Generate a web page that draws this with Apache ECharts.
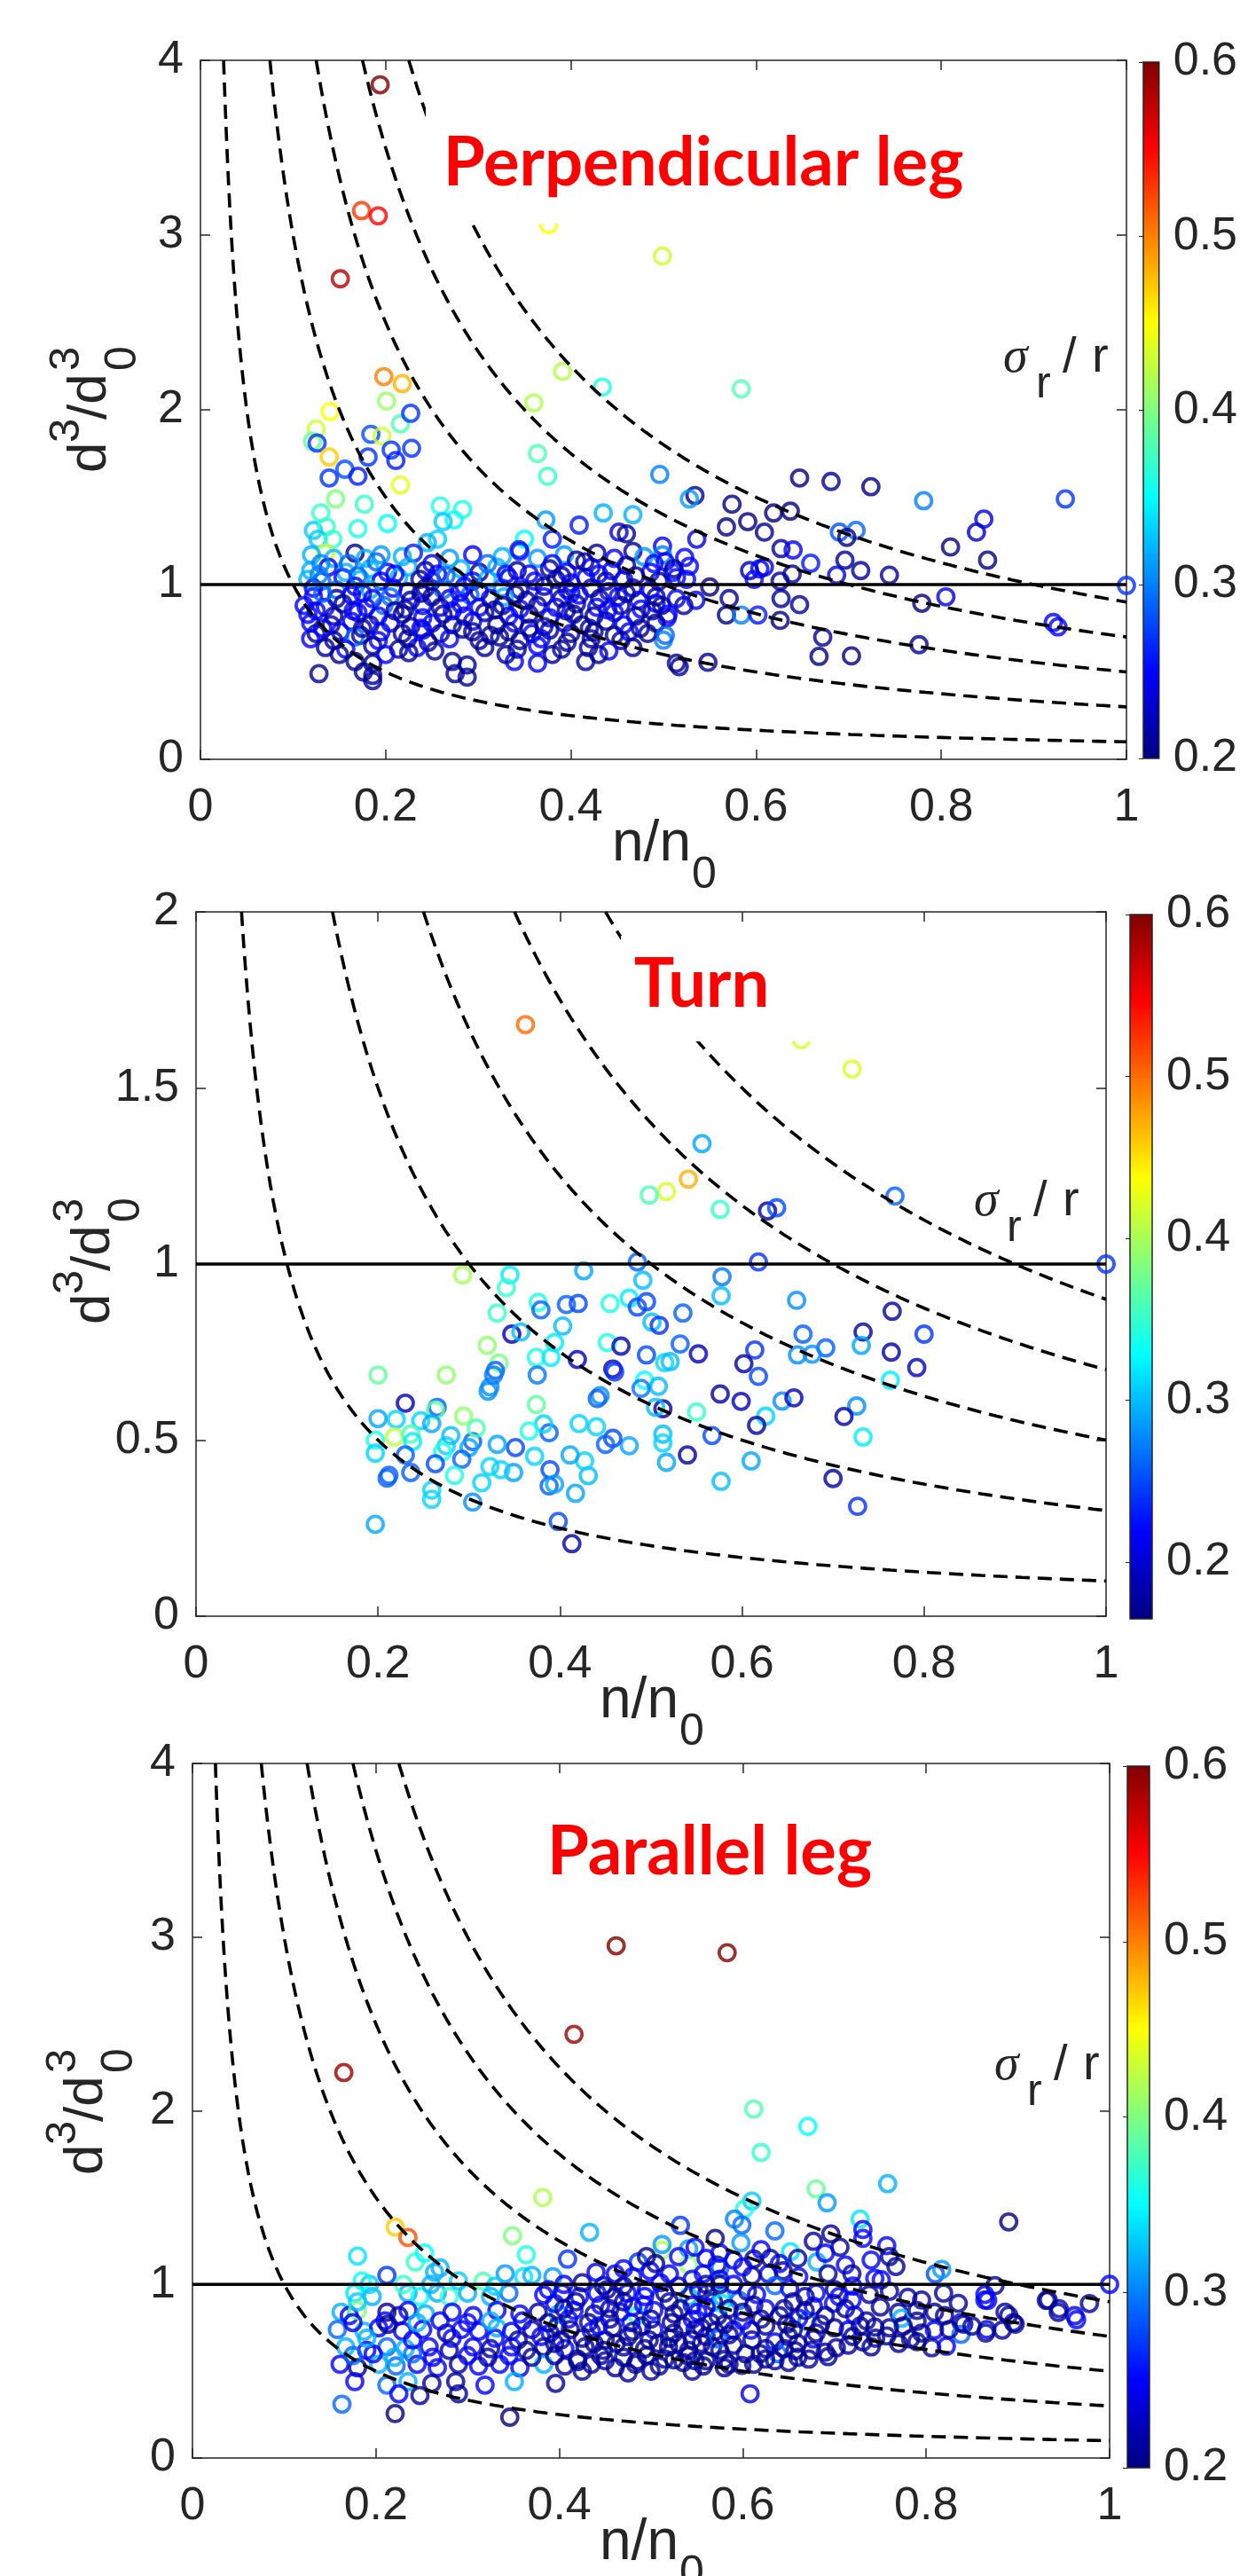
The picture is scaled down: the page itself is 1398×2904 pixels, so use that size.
<!DOCTYPE html>
<html><head><meta charset="utf-8">
<script src="https://cdn.jsdelivr.net/npm/echarts@6/dist/echarts.min.js"></script>
<style>html,body{margin:0;padding:0;background:#fff}#c{width:1398px;height:2904px}</style>
</head><body><div id="c"></div>
<script>
// ---------------- data ----------------
const xTicks = [0, 0.2, 0.4, 0.6, 0.8, 1];
const cbTicks = [0.2, 0.3, 0.4, 0.5, 0.6];
const curveConsts = [0.1, 0.3, 0.5, 0.7, 0.9];
const refLevel = 1;
const panelTitles = ['Perpendicular leg', 'Turn', 'Parallel leg'];
const yMaxes = [4, 2, 4];
const yIntervals = [1, 0.5, 1];
const cbRanges = [[0.2, 0.6], [0.165, 0.6], [0.2, 0.6]];

// [n/n0, d^3/d0^3, sigma_r/r]
const perpPts = [
[0.194,3.86,0.60],[0.174,3.14,0.53],[0.192,3.11,0.55],[0.151,2.75,0.58],[0.376,3.06,0.45],[0.499,2.88,0.43],
[0.198,2.19,0.50],[0.218,2.15,0.48],[0.391,2.22,0.42],[0.434,2.13,0.36],[0.584,2.12,0.38],
[0.140,1.99,0.45],[0.125,1.89,0.43],[0.121,1.82,0.39],[0.126,1.81,0.27],[0.201,2.05,0.41],[0.216,1.92,0.38],[0.227,1.98,0.27],
[0.184,1.86,0.28],[0.196,1.85,0.43],[0.206,1.77,0.27],[0.228,1.78,0.27],[0.211,1.71,0.26],[0.181,1.73,0.27],[0.139,1.73,0.47],
[0.139,1.61,0.27],[0.156,1.66,0.28],[0.170,1.62,0.26],[0.216,1.57,0.44],[0.146,1.49,0.40],
[0.360,2.04,0.42],[0.364,1.75,0.38],[0.375,1.62,0.37],[0.496,1.63,0.30],
[0.647,1.61,0.20],[0.681,1.59,0.21],[0.724,1.56,0.20],[0.781,1.48,0.30],[0.934,1.49,0.27],
[0.534,1.51,0.21],[0.528,1.49,0.31],
[0.177,1.46,0.37],[0.130,1.41,0.37],[0.170,1.32,0.36],[0.202,1.35,0.35],[0.259,1.45,0.36],[0.283,1.43,0.36],[0.274,1.37,0.35],[0.262,1.36,0.33],
[0.373,1.37,0.31],[0.409,1.34,0.26],[0.435,1.41,0.32],[0.467,1.40,0.32],[0.452,1.30,0.24],
[0.122,1.31,0.33],[0.136,1.33,0.37],[0.127,1.26,0.33],[0.143,1.26,0.37],[0.135,1.18,0.43],[0.256,1.26,0.33],[0.245,1.24,0.32],[0.460,1.29,0.21],[0.380,1.26,0.26],[0.350,1.26,0.35],[0.344,1.20,0.26],
[0.574,1.46,0.20],[0.568,1.33,0.20],[0.591,1.36,0.20],[0.609,1.30,0.21],[0.619,1.41,0.20],[0.637,1.42,0.20],[0.690,1.30,0.28],[0.708,1.31,0.29],[0.698,1.27,0.20],[0.810,1.215,0.20],[0.838,1.30,0.23],[0.846,1.375,0.24],[0.850,1.14,0.20],
[0.536,1.26,0.24],[0.499,1.22,0.25],[0.499,1.17,0.30],[0.523,1.155,0.25],[0.528,1.105,0.25],[0.510,1.07,0.26],[0.525,1.03,0.25],[0.550,0.986,0.20],
[0.627,1.206,0.21],[0.640,1.198,0.25],[0.659,1.122,0.26],[0.696,1.14,0.21],[0.713,1.08,0.21],[0.687,1.054,0.24],[0.744,1.054,0.21],
[0.593,1.08,0.22],[0.604,1.09,0.25],[0.598,1.03,0.25],[0.609,1.10,0.24],[0.639,1.06,0.21],[0.626,1.02,0.21],[1.000,0.995,0.27],
[0.571,0.92,0.21],[0.627,0.92,0.21],[0.647,0.885,0.21],[0.568,0.826,0.20],[0.584,0.826,0.30],[0.602,0.826,0.26],[0.626,0.795,0.20],
[0.504,0.81,0.25],[0.522,0.88,0.21],[0.535,0.91,0.24],[0.779,0.893,0.20],[0.805,0.93,0.24],[0.921,0.783,0.25],[0.926,0.758,0.25],
[0.672,0.699,0.21],[0.668,0.589,0.20],[0.703,0.592,0.20],[0.776,0.656,0.21],[0.500,0.682,0.30],[0.517,0.53,0.21],[0.548,0.555,0.21],[0.492,0.893,0.25],
[0.120,1.17,0.32],[0.144,1.15,0.32],[0.167,1.18,0.21],[0.178,1.15,0.32],[0.195,1.17,0.31],[0.218,1.16,0.32],[0.230,1.18,0.26],[0.269,1.15,0.31],[0.294,1.17,0.25],[0.326,1.16,0.32],[0.345,1.19,0.26],[0.364,1.15,0.31],[0.393,1.17,0.31],[0.406,1.14,0.21],[0.428,1.18,0.21],[0.447,1.15,0.25],[0.467,1.19,0.21],[0.479,1.16,0.31],[0.502,1.13,0.25],
[0.119,1.08,0.32],[0.138,1.10,0.25],[0.157,1.07,0.32],[0.183,1.09,0.32],[0.202,1.07,0.25],[0.224,1.10,0.32],[0.243,1.08,0.21],[0.256,1.06,0.25],[0.281,1.09,0.32],[0.301,1.07,0.21],[0.320,1.10,0.32],[0.342,1.08,0.21],[0.355,1.06,0.25],[0.377,1.09,0.21],[0.396,1.07,0.25],[0.422,1.10,0.25],[0.444,1.08,0.25],[0.460,1.11,0.21],[0.486,1.07,0.25],[0.511,1.09,0.21],
[0.116,1.03,0.32],[0.131,1.02,0.29],[0.154,1.04,0.25],[0.173,1.03,0.32],[0.195,1.02,0.25],[0.214,1.04,0.32],[0.237,1.03,0.21],[0.250,1.02,0.25],[0.275,1.04,0.29],[0.294,1.02,0.25],[0.310,1.03,0.32],[0.333,1.04,0.25],[0.361,1.02,0.25],[0.384,1.03,0.21],[0.400,1.01,0.25],[0.416,1.04,0.25],[0.438,1.02,0.21],[0.457,1.03,0.25],[0.495,1.02,0.21],[0.514,1.04,0.25],
[0.122,0.98,0.25],[0.147,0.97,0.29],[0.167,0.99,0.25],[0.183,0.97,0.32],[0.208,0.98,0.25],[0.224,0.96,0.25],[0.243,0.98,0.21],[0.262,0.97,0.29],[0.285,0.99,0.25],[0.301,0.96,0.21],[0.326,0.98,0.29],[0.345,0.97,0.25],[0.371,0.99,0.21],[0.396,0.97,0.25],[0.422,0.98,0.21],[0.441,0.96,0.25],[0.467,0.98,0.21],[0.486,0.97,0.25],
[0.122,0.93,0.25],[0.147,0.92,0.21],[0.163,0.94,0.25],[0.186,0.92,0.25],[0.205,0.93,0.29],[0.227,0.91,0.21],[0.250,0.93,0.21],[0.269,0.92,0.25],[0.291,0.94,0.29],[0.313,0.92,0.25],[0.328,0.93,0.32],[0.352,0.91,0.21],[0.371,0.93,0.25],[0.390,0.92,0.21],[0.409,0.94,0.25],[0.431,0.92,0.21],[0.451,0.93,0.25],[0.473,0.91,0.25],[0.492,0.93,0.21],[0.514,0.92,0.25],
[0.112,0.88,0.25],[0.135,0.87,0.25],[0.154,0.89,0.21],[0.179,0.87,0.25],[0.198,0.88,0.29],[0.221,0.86,0.21],[0.240,0.88,0.25],[0.259,0.87,0.21],[0.281,0.89,0.25],[0.301,0.87,0.25],[0.326,0.88,0.21],[0.345,0.86,0.25],[0.364,0.88,0.21],[0.384,0.87,0.25],[0.406,0.89,0.21],[0.428,0.87,0.25],[0.454,0.88,0.21],[0.476,0.86,0.25],[0.498,0.88,0.21],
[0.116,0.83,0.25],[0.144,0.82,0.21],[0.170,0.84,0.25],[0.192,0.82,0.25],[0.218,0.83,0.21],[0.240,0.81,0.25],[0.262,0.83,0.21],[0.285,0.82,0.25],[0.307,0.84,0.21],[0.333,0.82,0.25],[0.355,0.83,0.21],[0.377,0.81,0.25],[0.403,0.83,0.21],[0.425,0.82,0.21],[0.447,0.84,0.25],[0.470,0.82,0.21],[0.505,0.83,0.25],
[0.119,0.78,0.25],[0.141,0.77,0.21],[0.163,0.79,0.25],[0.183,0.77,0.21],[0.205,0.78,0.25],[0.227,0.76,0.21],[0.250,0.78,0.25],[0.272,0.77,0.21],[0.294,0.79,0.25],[0.320,0.77,0.21],[0.339,0.78,0.25],[0.371,0.76,0.21],[0.393,0.78,0.25],[0.412,0.77,0.21],[0.438,0.79,0.21],[0.457,0.77,0.25],[0.492,0.78,0.21],
[0.125,0.72,0.21],[0.151,0.73,0.25],[0.173,0.71,0.21],[0.195,0.73,0.25],[0.218,0.72,0.21],[0.240,0.74,0.25],[0.259,0.72,0.21],[0.294,0.73,0.21],[0.313,0.71,0.21],[0.333,0.73,0.21],[0.358,0.72,0.25],[0.377,0.74,0.21],[0.400,0.72,0.21],[0.425,0.73,0.21],[0.447,0.71,0.21],[0.463,0.73,0.25],[0.483,0.72,0.21],[0.502,0.71,0.29],
[0.119,0.69,0.25],[0.144,0.68,0.21],[0.167,0.70,0.29],[0.192,0.68,0.25],[0.224,0.69,0.21],[0.246,0.67,0.21],[0.269,0.69,0.25],[0.301,0.68,0.21],[0.323,0.70,0.21],[0.345,0.68,0.21],[0.368,0.69,0.25],[0.396,0.67,0.21],[0.422,0.69,0.21],[0.454,0.68,0.21],
[0.135,0.64,0.21],[0.157,0.63,0.25],[0.186,0.65,0.21],[0.214,0.63,0.21],[0.234,0.64,0.25],[0.253,0.62,0.21],[0.307,0.64,0.21],[0.342,0.63,0.21],[0.364,0.65,0.25],[0.390,0.63,0.21],[0.419,0.64,0.21],[0.441,0.62,0.25],[0.467,0.64,0.21],
[0.167,0.56,0.21],[0.186,0.55,0.21],[0.272,0.56,0.21],[0.288,0.54,0.21],[0.339,0.56,0.25],[0.364,0.55,0.25],[0.416,0.56,0.21],[0.514,0.55,0.21],
[0.128,0.49,0.21],[0.176,0.50,0.21],[0.186,0.48,0.21],[0.275,0.49,0.21],[0.288,0.47,0.21],[0.186,0.45,0.21],
[0.130,1.12,0.30],[0.160,1.12,0.29],[0.190,1.13,0.29],[0.250,1.12,0.25],[0.310,1.12,0.29],[0.380,1.12,0.25],[0.415,1.13,0.21],[0.490,1.12,0.25],
[0.128,1.055,0.30],[0.170,1.05,0.29],[0.210,1.06,0.25],[0.265,1.05,0.29],[0.330,1.06,0.25],[0.390,1.05,0.21],[0.430,1.06,0.25],[0.470,1.05,0.21],
[0.132,0.95,0.29],[0.175,0.95,0.25],[0.238,0.95,0.21],[0.280,0.955,0.25],[0.340,0.945,0.21],[0.400,0.95,0.25],[0.460,0.95,0.21],
[0.125,0.85,0.25],[0.165,0.85,0.25],[0.210,0.85,0.21],[0.272,0.85,0.25],[0.318,0.855,0.21],[0.395,0.85,0.21],[0.440,0.855,0.25],[0.488,0.85,0.21],
[0.132,0.75,0.25],[0.175,0.75,0.21],[0.238,0.75,0.25],[0.283,0.745,0.21],[0.355,0.75,0.21],[0.420,0.75,0.21],[0.475,0.75,0.21],
[0.150,0.60,0.21],[0.200,0.60,0.25],[0.225,0.61,0.21],[0.330,0.60,0.21],[0.380,0.60,0.21],[0.430,0.60,0.21]
];

const turnPts = [
[0.362,1.68,0.50],[0.665,1.637,0.42],[0.721,1.554,0.42],[1.000,1.00,0.24],
[0.556,1.342,0.29],[0.541,1.241,0.47],[0.517,1.206,0.42],[0.498,1.196,0.36],[0.576,1.155,0.35],[0.628,1.151,0.18],[0.638,1.16,0.25],[0.768,1.193,0.26],
[0.485,1.006,0.26],[0.618,1.006,0.24],[0.426,0.981,0.29],[0.491,0.954,0.30],[0.578,0.964,0.27],[0.577,0.91,0.30],[0.293,0.969,0.40],[0.345,0.969,0.32],[0.341,0.933,0.35],[0.660,0.897,0.28],[0.376,0.891,0.34],[0.379,0.87,0.26],[0.407,0.885,0.26],[0.420,0.888,0.25],[0.455,0.888,0.34],[0.476,0.903,0.32],[0.485,0.878,0.25],[0.495,0.893,0.25],[0.765,0.866,0.18],[0.331,0.861,0.35],[0.501,0.835,0.30],[0.509,0.826,0.24],[0.535,0.861,0.26],
[0.347,0.801,0.19],[0.357,0.807,0.30],[0.394,0.777,0.32],[0.403,0.824,0.30],[0.452,0.777,0.34],[0.467,0.767,0.19],[0.532,0.773,0.26],[0.552,0.745,0.19],[0.495,0.742,0.25],[0.667,0.801,0.26],[0.692,0.762,0.26],[0.733,0.807,0.18],[0.731,0.769,0.29],[0.800,0.801,0.24],[0.764,0.75,0.18],[0.792,0.706,0.19],[0.763,0.67,0.32],[0.661,0.742,0.28],[0.677,0.744,0.28],[0.614,0.756,0.24],[0.602,0.717,0.18],[0.618,0.681,0.25],
[0.320,0.769,0.39],[0.333,0.719,0.38],[0.329,0.698,0.26],[0.374,0.735,0.34],[0.390,0.735,0.32],[0.419,0.729,0.19],[0.375,0.685,0.27],[0.458,0.702,0.19],[0.460,0.694,0.24],[0.515,0.72,0.31],[0.521,0.723,0.30],[0.493,0.67,0.33],[0.508,0.653,0.30],[0.489,0.647,0.27],[0.323,0.651,0.28],[0.321,0.639,0.28],[0.444,0.626,0.28],[0.441,0.618,0.26],[0.576,0.631,0.18],[0.599,0.61,0.19],[0.644,0.611,0.28],[0.657,0.62,0.19],[0.726,0.597,0.28],[0.712,0.567,0.18],[0.513,0.589,0.18],[0.505,0.593,0.30],[0.550,0.58,0.35],[0.626,0.568,0.31],[0.616,0.542,0.18],[0.733,0.509,0.32],[0.567,0.513,0.25],[0.540,0.458,0.18],[0.513,0.517,0.30],[0.513,0.492,0.31],[0.517,0.437,0.29],[0.610,0.441,0.29],[0.577,0.383,0.30],[0.700,0.391,0.18],[0.727,0.312,0.24],
[0.476,0.484,0.29],[0.458,0.505,0.25],[0.450,0.488,0.26],[0.440,0.538,0.31],[0.421,0.547,0.31],[0.431,0.399,0.30],[0.427,0.441,0.31],[0.411,0.458,0.29],[0.417,0.349,0.29],[0.398,0.269,0.25],[0.413,0.206,0.18],[0.389,0.416,0.25],[0.388,0.37,0.26],[0.394,0.375,0.29],[0.372,0.454,0.31],[0.388,0.521,0.26],[0.382,0.546,0.31],[0.366,0.526,0.34],[0.374,0.601,0.37],[0.351,0.479,0.25],[0.349,0.408,0.29],[0.335,0.416,0.31],[0.323,0.425,0.31],[0.331,0.488,0.29],[0.304,0.496,0.26],[0.300,0.479,0.29],[0.314,0.379,0.31],[0.292,0.446,0.26],[0.284,0.40,0.34],[0.275,0.484,0.31],[0.280,0.513,0.30],[0.271,0.467,0.34],[0.294,0.568,0.39],[0.308,0.534,0.36],[0.263,0.433,0.25],[0.265,0.593,0.26],[0.263,0.585,0.37],[0.275,0.685,0.39],[0.230,0.605,0.19],[0.247,0.555,0.31],[0.259,0.547,0.29],[0.220,0.559,0.31],[0.200,0.561,0.29],[0.218,0.509,0.41],[0.236,0.517,0.36],[0.238,0.496,0.32],[0.197,0.500,0.34],[0.197,0.463,0.31],[0.200,0.685,0.37],[0.212,0.400,0.26],[0.210,0.392,0.26],[0.236,0.408,0.26],[0.230,0.458,0.26],[0.259,0.358,0.31],[0.259,0.332,0.31],[0.304,0.324,0.28],[0.197,0.261,0.29],[0.327,0.685,0.27]
];

const paraPts = [
[0.462,2.95,0.60],[0.583,2.91,0.60],[0.416,2.44,0.59],[0.165,2.22,0.59],[0.612,2.01,0.38],[0.671,1.91,0.35],[0.620,1.76,0.37],[0.758,1.58,0.32],[0.680,1.55,0.39],[0.382,1.50,0.42],[0.692,1.47,0.31],[0.890,1.36,0.20],[0.610,1.48,0.33],[0.221,1.33,0.47],[0.235,1.27,0.52],[0.349,1.28,0.40],[0.433,1.30,0.32],[1.000,1.00,0.25],[0.810,1.06,0.28],[0.163,0.31,0.29],[0.221,0.256,0.20],[0.346,0.235,0.20],[0.608,0.37,0.24],
[0.933,0.91,0.21],[0.945,0.86,0.22],[0.962,0.82,0.24],[0.978,0.89,0.21],[0.864,0.91,0.24],[0.886,0.84,0.21],[0.895,0.78,0.22],[0.866,0.74,0.24],[0.838,0.78,0.24],
[0.532,1.34,0.27],[0.180,1.163,0.34],[0.243,1.129,0.37],[0.253,1.18,0.35],[0.364,1.171,0.36],[0.409,1.146,0.27],[0.486,1.129,0.27],[0.512,1.197,0.42],[0.512,1.23,0.31],[0.541,1.205,0.31],[0.541,1.112,0.41],[0.570,1.265,0.20],[0.572,1.112,0.21],[0.212,1.052,0.27],[0.264,1.07,0.32],[0.270,1.095,0.32],[0.317,1.018,0.38],[0.341,1.061,0.31],[0.361,1.044,0.34],[0.370,1.052,0.32],[0.393,1.044,0.31],[0.548,1.214,0.25],[0.448,0.993,0.21],[0.461,1.061,0.25],[0.480,1.044,0.25],[0.499,1.078,0.25],[0.557,1.061,0.25],
[0.177,0.95,0.34],[0.196,0.93,0.32],[0.235,0.95,0.32],[0.248,0.93,0.35],[0.267,0.95,0.32],[0.280,0.93,0.37],[0.300,0.95,0.32],[0.325,0.93,0.32],[0.345,0.95,0.29],[0.383,0.94,0.25],[0.403,0.95,0.21],[0.422,0.93,0.25],[0.441,0.95,0.25],[0.461,0.93,0.21],[0.474,0.95,0.25],[0.493,0.93,0.25],[0.515,0.95,0.21],[0.541,0.93,0.32],[0.561,0.95,0.25],[0.577,0.93,0.32],
[0.162,0.84,0.32],[0.171,0.82,0.25],[0.180,0.85,0.40],[0.212,0.84,0.21],[0.225,0.82,0.21],[0.235,0.85,0.25],[0.254,0.83,0.32],[0.283,0.84,0.25],[0.306,0.82,0.25],[0.332,0.85,0.25],[0.357,0.83,0.25],[0.377,0.84,0.21],[0.399,0.83,0.32],[0.416,0.85,0.25],[0.438,0.83,0.21],[0.467,0.84,0.25],[0.485,0.82,0.37],[0.503,0.85,0.25],[0.525,0.83,0.21],[0.551,0.84,0.25],[0.573,0.82,0.21],
[0.158,0.74,0.29],[0.187,0.73,0.32],[0.203,0.75,0.25],[0.229,0.73,0.25],[0.251,0.74,0.25],[0.277,0.72,0.21],[0.293,0.74,0.25],[0.312,0.73,0.25],[0.332,0.75,0.32],[0.348,0.73,0.25],[0.370,0.74,0.21],[0.390,0.72,0.25],[0.412,0.74,0.21],[0.435,0.73,0.25],[0.458,0.75,0.21],[0.480,0.73,0.21],[0.503,0.74,0.25],[0.525,0.72,0.21],[0.548,0.74,0.25],[0.570,0.73,0.21],
[0.167,0.64,0.32],[0.190,0.62,0.25],[0.212,0.64,0.29],[0.232,0.63,0.32],[0.258,0.64,0.25],[0.280,0.62,0.21],[0.306,0.64,0.25],[0.325,0.63,0.21],[0.348,0.64,0.25],[0.364,0.62,0.21],[0.383,0.64,0.21],[0.406,0.63,0.25],[0.428,0.64,0.21],[0.448,0.62,0.21],[0.470,0.64,0.21],[0.493,0.63,0.21],[0.519,0.64,0.21],[0.541,0.62,0.21],[0.567,0.64,0.21],
[0.161,0.54,0.25],[0.180,0.52,0.21],[0.203,0.54,0.32],[0.222,0.53,0.29],[0.245,0.54,0.25],[0.267,0.52,0.25],[0.290,0.54,0.21],[0.312,0.53,0.25],[0.335,0.54,0.25],[0.357,0.52,0.25],[0.383,0.54,0.32],[0.406,0.53,0.21],[0.435,0.54,0.21],[0.461,0.52,0.21],[0.483,0.54,0.21],[0.509,0.53,0.21],[0.535,0.55,0.21],[0.557,0.53,0.21],
[0.177,0.44,0.25],[0.212,0.42,0.29],[0.235,0.44,0.32],[0.261,0.43,0.21],[0.287,0.44,0.21],[0.319,0.42,0.25],[0.351,0.44,0.32],[0.396,0.43,0.21],
[0.225,0.37,0.25],[0.248,0.36,0.21],[0.290,0.37,0.21],
[0.395,0.89,0.25],[0.418,0.90,0.21],[0.445,0.88,0.25],[0.470,0.90,0.21],[0.492,0.88,0.25],[0.520,0.90,0.21],[0.545,0.88,0.25],[0.568,0.90,0.21],
[0.360,0.79,0.25],[0.388,0.78,0.21],[0.410,0.80,0.25],[0.432,0.78,0.21],[0.455,0.80,0.21],[0.478,0.78,0.25],[0.500,0.80,0.21],[0.522,0.78,0.21],[0.545,0.80,0.25],[0.565,0.78,0.21],
[0.330,0.69,0.25],[0.355,0.68,0.21],[0.380,0.70,0.25],[0.402,0.68,0.21],[0.425,0.69,0.21],[0.450,0.68,0.21],[0.475,0.70,0.21],[0.498,0.68,0.21],[0.520,0.69,0.21],[0.545,0.68,0.21],[0.560,0.70,0.21],
[0.300,0.59,0.25],[0.322,0.58,0.21],[0.345,0.59,0.25],[0.370,0.58,0.21],[0.395,0.59,0.21],[0.420,0.57,0.21],[0.445,0.59,0.21],[0.470,0.58,0.21],[0.495,0.59,0.21],[0.515,0.57,0.21],[0.540,0.59,0.21],
[0.175,0.59,0.29],[0.197,0.60,0.25],[0.220,0.58,0.32],[0.240,0.60,0.29],[0.262,0.58,0.25],[0.283,0.69,0.25],[0.190,0.69,0.32],[0.240,0.68,0.25],[0.210,0.79,0.25],[0.245,0.78,0.32],[0.270,0.79,0.25],[0.300,0.78,0.25],[0.325,0.79,0.32],
[0.193,1.00,0.33],[0.180,0.90,0.33],[0.185,1.02,0.35],[0.260,1.00,0.32],[0.290,1.02,0.33],[0.230,1.00,0.37],[0.330,0.99,0.33],[0.175,0.78,0.24],[0.213,0.77,0.21],
[0.602,1.435,0.36],[0.591,1.376,0.30],[0.599,1.342,0.29],[0.635,1.308,0.29],[0.598,1.24,0.31],[0.728,1.376,0.34],[0.731,1.316,0.25],[0.731,1.265,0.25],[0.757,1.223,0.25],[0.767,1.103,0.21],[0.677,1.248,0.21],[0.696,1.291,0.21],[0.706,1.214,0.21],[0.652,1.188,0.34],[0.681,1.129,0.32],[0.712,1.112,0.25],[0.575,1.095,0.29],[0.612,1.146,0.21],[0.628,1.061,0.25],[0.644,1.078,0.21],[0.661,1.044,0.25],[0.693,1.061,0.21],[0.719,1.061,0.21],[0.744,1.035,0.25],[0.817,1.086,0.31],[0.875,0.993,0.21],[0.864,0.942,0.25],[0.867,0.908,0.25],[0.931,0.908,0.21],[0.944,0.839,0.21],[0.964,0.797,0.25],
[0.819,0.95,0.21],[0.835,0.891,0.21],[0.841,0.771,0.21],[0.838,0.712,0.29],[0.865,0.72,0.21],[0.883,0.737,0.21],[0.890,0.822,0.21],[0.897,0.771,0.21],[0.809,0.839,0.21],[0.809,0.737,0.25],[0.806,0.635,0.21],[0.822,0.644,0.25],[0.780,0.925,0.21],[0.770,0.839,0.21],[0.790,0.788,0.21],[0.773,0.805,0.32],[0.738,0.942,0.21],[0.751,1.027,0.25],[0.722,0.822,0.25],[0.744,0.754,0.21],[0.757,0.703,0.21],[0.783,0.686,0.21],[0.731,0.669,0.21],[0.715,0.737,0.25],[0.702,0.635,0.21],[0.693,0.584,0.21],[0.677,0.686,0.25],[0.677,0.874,0.25],[0.670,0.788,0.29],[0.648,0.771,0.21],[0.635,0.669,0.25],[0.638,0.601,0.29],[0.657,0.618,0.21],[0.619,0.601,0.21],[0.599,0.533,0.21],[0.580,0.567,0.21],[0.577,0.891,0.34],[0.596,0.908,0.29],[0.615,0.942,0.25],[0.635,0.993,0.29],[0.651,0.976,0.25],[0.590,0.737,0.25],[0.573,0.686,0.29],[0.609,0.737,0.25],[0.661,0.805,0.25],[0.699,0.891,0.25],[0.719,0.908,0.25],
[0.600,0.84,0.21],[0.625,0.86,0.25],[0.640,0.82,0.21],[0.655,0.90,0.21],[0.690,0.82,0.21],[0.700,0.75,0.21],[0.720,0.70,0.21],[0.735,0.79,0.21],[0.760,0.75,0.21],[0.770,0.66,0.21],[0.590,0.65,0.21],[0.610,0.68,0.21],[0.625,0.63,0.21],[0.660,0.66,0.21],[0.600,0.79,0.25],[0.620,0.80,0.21],[0.680,0.95,0.25],[0.700,0.97,0.21],[0.720,0.99,0.25],[0.590,1.00,0.25],[0.610,1.05,0.21],[0.640,1.12,0.25],[0.600,1.10,0.25],[0.660,1.15,0.21],[0.690,1.18,0.25],[0.740,1.14,0.25],[0.760,1.16,0.21],
[0.405,1.00,0.25],[0.425,1.01,0.21],[0.470,0.99,0.21],[0.510,1.01,0.25],[0.530,0.99,0.21],[0.575,1.00,0.21],
[0.605,0.96,0.21],[0.668,0.93,0.21],[0.705,0.93,0.25],[0.760,0.96,0.21],[0.795,0.91,0.21],
[0.585,0.86,0.21],[0.612,0.88,0.21],[0.645,0.86,0.21],[0.668,0.85,0.21],[0.712,0.86,0.21],[0.750,0.87,0.21],[0.790,0.85,0.21],[0.820,0.82,0.21],
[0.580,0.77,0.21],[0.625,0.76,0.21],[0.655,0.74,0.21],[0.685,0.77,0.21],[0.728,0.76,0.21],[0.775,0.76,0.21],[0.795,0.72,0.21],[0.825,0.74,0.21],[0.850,0.76,0.21],
[0.585,0.71,0.21],[0.650,0.70,0.21],[0.680,0.72,0.21],[0.745,0.69,0.21],[0.790,0.67,0.21],
[0.575,0.62,0.21],[0.603,0.60,0.21],[0.645,0.63,0.21],[0.675,0.62,0.21],[0.715,0.65,0.21],[0.740,0.64,0.21],
[0.560,0.56,0.21],[0.585,0.54,0.21],[0.625,0.57,0.21],[0.650,0.55,0.21],[0.672,0.57,0.21],
[0.388,0.97,0.25],[0.452,0.97,0.21],[0.495,0.97,0.25],[0.552,0.97,0.21],
[0.405,0.86,0.21],[0.455,0.86,0.21],[0.480,0.87,0.25],[0.532,0.86,0.21],[0.560,0.87,0.25],
[0.398,0.76,0.21],[0.443,0.76,0.25],[0.490,0.76,0.21],[0.535,0.76,0.21],[0.555,0.75,0.21],
[0.395,0.66,0.21],[0.438,0.66,0.21],[0.462,0.66,0.21],[0.508,0.66,0.21],[0.530,0.66,0.21],[0.555,0.66,0.21],
[0.420,0.555,0.21],[0.450,0.56,0.21],[0.485,0.56,0.21],[0.525,0.565,0.21],[0.548,0.56,0.21],
[0.425,0.50,0.21],[0.475,0.49,0.21],[0.500,0.50,0.21],[0.545,0.50,0.21],[0.580,0.52,0.21],[0.612,0.54,0.21],[0.635,0.56,0.21],[0.660,0.58,0.21],[0.690,0.61,0.21],
[0.575,1.18,0.25],[0.590,1.14,0.25],[0.560,1.15,0.25],[0.620,1.20,0.25],[0.630,1.15,0.21],[0.575,1.03,0.25],[0.560,1.00,0.21],[0.545,1.03,0.25],[0.520,1.06,0.25],[0.505,1.12,0.21],[0.470,1.09,0.25],[0.440,1.07,0.25],[0.530,1.16,0.25],[0.495,1.16,0.21]
];
const panelPts = [perpPts, turnPts, paraPts];

// ---------------- layout ----------------
const mainGrids = [
  {left:226, top:68, width:1044, height:788},
  {left:221, top:1028, width:1026, height:794},
  {left:217, top:1988, width:1034, height:783}
];
const cbGrids = [
  {left:1289, top:70, width:24, height:785},
  {left:1274, top:1031, width:25, height:794},
  {left:1271, top:1991, width:25, height:791}
];
const INK = '#262626';
const SANS = '"Liberation Sans", Arial, sans-serif';

function jet(t) {
  t = Math.max(0, Math.min(1, t));
  const c = v => Math.round(255 * Math.max(0, Math.min(1, v)));
  return 'rgb(' + c(1.5 - Math.abs(4*t - 3)) + ',' + c(1.5 - Math.abs(4*t - 2)) + ',' + c(1.5 - Math.abs(4*t - 1)) + ')';
}
const jetStops = [
  {offset:0, color:'#000080'}, {offset:0.125, color:'#0000ff'}, {offset:0.375, color:'#00ffff'},
  {offset:0.625, color:'#ffff00'}, {offset:0.875, color:'#ff0000'}, {offset:1, color:'#800000'}
];

const grids = [], xAxes = [], yAxes = [], series = [], graphics = [];
mainGrids.forEach(g => grids.push(Object.assign({containLabel:false}, g)));
cbGrids.forEach(g => grids.push(Object.assign({containLabel:false}, g)));

const axLine = {show:true, onZero:false, lineStyle:{color:INK, width:1.5}};
const axTick = {show:true, inside:true, length:11, lineStyle:{color:INK, width:1.5}};

for (let p = 0; p < 3; p++) xAxes.push({type:'value', gridIndex:p, min:0, max:1, interval:0.2, position:'bottom',
  axisLine:axLine, axisTick:axTick, splitLine:{show:false},
  axisLabel:{fontSize:52, color:INK, fontFamily:SANS, margin:29}});
for (let p = 0; p < 3; p++) xAxes.push({type:'value', gridIndex:p, min:0, max:1, interval:0.2, position:'top',
  axisLine:axLine, axisTick:axTick, splitLine:{show:false}, axisLabel:{show:false}});
for (let p = 0; p < 3; p++) xAxes.push({type:'value', gridIndex:3+p, min:0, max:1, show:false});

for (let p = 0; p < 3; p++) yAxes.push({type:'value', gridIndex:p, min:0, max:yMaxes[p], interval:yIntervals[p], position:'left',
  axisLine:axLine, axisTick:axTick, splitLine:{show:false},
  axisLabel:{fontSize:52, color:INK, fontFamily:SANS, margin:19}});
for (let p = 0; p < 3; p++) yAxes.push({type:'value', gridIndex:p, min:0, max:yMaxes[p], interval:yIntervals[p], position:'right',
  axisLine:axLine, axisTick:axTick, splitLine:{show:false}, axisLabel:{show:false}});
for (let p = 0; p < 3; p++) yAxes.push({type:'value', gridIndex:3+p, min:cbRanges[p][0], max:cbRanges[p][1], position:'right',
  axisLine:{show:false}, splitLine:{show:false},
  axisTick:{show:true, inside:true, length:5, customValues:cbTicks, lineStyle:{color:INK, width:1}},
  axisLabel:{fontSize:52, color:INK, fontFamily:SANS, margin:16, customValues:cbTicks, formatter:v => v.toFixed(1)}});

for (let p = 0; p < 3; p++) {
  const lo = cbRanges[p][0], hi = cbRanges[p][1];
  series.push({type:'scatter', xAxisIndex:p, yAxisIndex:p, symbol:'circle', symbolSize:18, z:2, silent:true,
    data: panelPts[p].map(d => ({value:[d[0], d[1]], itemStyle:{color:'rgba(0,0,0,0)', borderColor:jet((d[2]-lo)/(hi-lo)), borderWidth:3.8}}))});
  curveConsts.forEach(c => {
    const x0 = c / yMaxes[p];
    const pts = [];
    for (let k = 0; k <= 120; k++) { const x = x0 + (1 - x0) * Math.pow(k/120, 2); pts.push([x, c/x]); }
    series.push({type:'line', xAxisIndex:p, yAxisIndex:p, data:pts, showSymbol:false, symbol:'none', z:3, silent:true, clip:true,
      lineStyle:{color:'#000', width:3.6, type:[16, 9]}});
  });
  series.push({type:'line', xAxisIndex:p, yAxisIndex:p, data:[[0, refLevel], [1, refLevel]], symbol:'none', z:3, silent:true,
    lineStyle:{color:'#000', width:3.5}});
  series.push({type:'custom', xAxisIndex:6+p, yAxisIndex:6+p, silent:true, data:[[0, lo, 1, hi]],
    renderItem:(params, api) => {
      const a = api.coord([api.value(0), api.value(1)]);
      const b = api.coord([api.value(2), api.value(3)]);
      return {type:'rect', shape:{x:a[0], y:b[1], width:b[0]-a[0], height:a[1]-b[1]},
        style:{fill:{type:'linear', x:0, y:1, x2:0, y2:0, colorStops:jetStops}, stroke:INK, lineWidth:1.5}};
    }});
}

// ---------------- text graphics ----------------
function txt(x, baseline, text, size, opts) {
  opts = opts || {};
  const family = opts.family || SANS;
  const k = opts.mid != null ? opts.mid : 0.3465;
  return {type:'text', x:x, y:baseline - k*size, z:100, silent:true,
    style:{text:text, font:(opts.style||'') + ' ' + (opts.weight||'normal') + ' ' + size + 'px ' + family,
      fill:opts.fill || INK, textAlign:opts.align || 'left', textVerticalAlign:'middle'}};
}
const boxes = [[480,100,625,152],[700,1055,240,119],[596,2030,410,130]];
const titleCenters = [[793,214],[791,1140],[800,2118]];
for (let p = 0; p < 3; p++) {
  graphics.push({type:'rect', z:99, silent:true, shape:{x:boxes[p][0], y:boxes[p][1], width:boxes[p][2], height:boxes[p][3]}, style:{fill:'#fff'}});
  graphics.push(txt(titleCenters[p][0], titleCenters[p][1], panelTitles[p], 76,
    {family:'Lato, "Open Sans", sans-serif', weight:'bold', fill:'#ff0000', align:'center', mid:0.387}));
}
const sigmaPos = [[1131,423],[1098,1374],[1121,2348]];
sigmaPos.forEach(s => {
  graphics.push(txt(s[0], s[1], 'σ', 56, {family:'"Liberation Serif", serif', style:'italic', mid:0.3375}));
  graphics.push(txt(s[0]+37, s[1]+29, 'r', 50));
  graphics.push(txt(s[0]+67, s[1], '/', 56));
  graphics.push(txt(s[0]+100, s[1], 'r', 56));
});
mainGrids.forEach(g => {
  const cx = g.left + g.width/2;
  const base = g.top + g.height + 119;
  graphics.push(txt(cx - 58, base, 'n/n', 64));
  graphics.push(txt(cx + 32, base + 30, '0', 50));
});
const yTitleOrigins = [[123,533],[127,1493],[119,2452]];
yTitleOrigins.forEach(o => {
  const mk = (x, base, t, size) => ({type:'text', x:x, y:base - 0.3465*size, silent:true,
    style:{text:t, font:size + 'px ' + SANS, fill:INK, textAlign:'left', textVerticalAlign:'middle'}});
  graphics.push({type:'group', x:o[0], y:o[1], rotation:Math.PI/2, z:100, silent:true, children:[
    mk(0, 0, 'd', 62),
    mk(34, -31, '3', 49),
    mk(60, 0, '/d', 62),
    mk(115, 34, '0', 50),
    mk(115, -31, '3', 49)
  ]});
});

const chart = echarts.init(document.getElementById('c'), null, {renderer:'canvas'});
chart.setOption({animation:false, backgroundColor:'#fff', grid:grids, xAxis:xAxes, yAxis:yAxes, series:series, graphic:graphics});
</script>
</body></html>
